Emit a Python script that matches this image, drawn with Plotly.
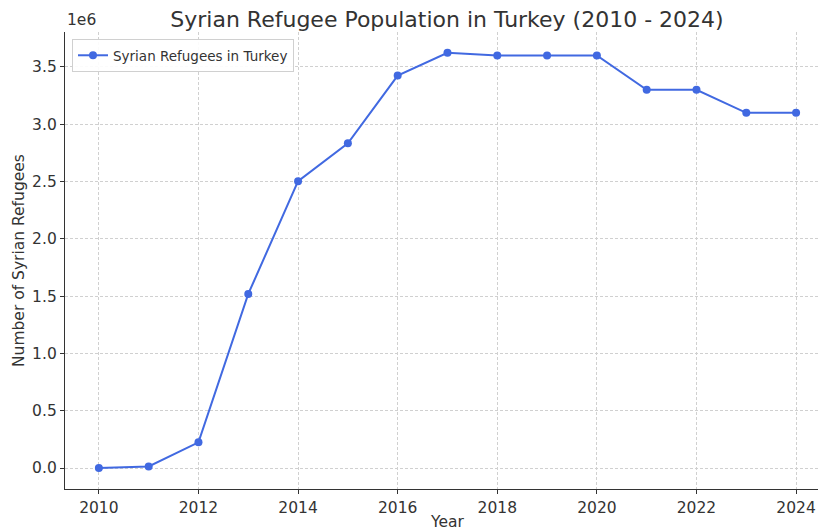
import plotly.graph_objects as go

# yearly counts
years = [2010, 2011, 2012, 2013, 2014, 2015, 2016, 2017, 2018, 2019, 2020, 2021, 2022, 2023, 2024]
refugees = [0, 14000, 224000, 1519000, 2503000, 2834000, 3425000, 3623000, 3600000, 3600000,
            3600000, 3300000, 3300000, 3100000, 3100000]
x_ticks = [2010, 2012, 2014, 2016, 2018, 2020, 2022, 2024]
y_ticks = [0, 500000, 1000000, 1500000, 2000000, 2500000, 3000000, 3500000]
y_tick_text = ["0.0", "0.5", "1.0", "1.5", "2.0", "2.5", "3.0", "3.5"]

font = "DejaVu Sans, Verdana, sans-serif"
W, H = 819, 530

fig = go.Figure()
fig.add_trace(go.Scatter(
    x=years,
    y=refugees,
    mode="lines+markers",
    name="Syrian Refugees in Turkey",
    line=dict(color="#4169E1", width=2),
    marker=dict(color="#4169E1", size=8),
))

fig.update_layout(
    width=W,
    height=H,
    paper_bgcolor="white",
    plot_bgcolor="white",
    margin=dict(l=65, r=1, t=32, b=41, autoexpand=False),
    font=dict(family=font, size=15.5, color="#333333"),
    title=dict(
        text="Syrian Refugee Population in Turkey (2010 - 2024)",
        x=447 / W, xanchor="center",
        y=1 - 19 / H, yanchor="middle",
        font=dict(size=22, color="#333333"),
    ),
    showlegend=True,
    legend=dict(
        x=7 / 753, y=1 - 7 / 457, xanchor="left", yanchor="top",
        bgcolor="rgba(255,255,255,0.9)",
        bordercolor="#d0d0d0", borderwidth=1,
        font=dict(size=13.5, color="#333333"),
    ),
)

grid = dict(showgrid=True, gridcolor="#d0d0d0", griddash="3px,2px", gridwidth=0.8)

fig.update_xaxes(
    range=[2009.32, 2024.44],
    tickvals=x_ticks,
    ticks="outside", ticklen=4, tickcolor="#333333",
    showline=True, linecolor="#333333", linewidth=1.3,
    zeroline=False, automargin=False,
    **grid,
)
fig.update_yaxes(
    range=[-183000, 3805000],
    tickvals=y_ticks,
    ticktext=y_tick_text,
    ticks="outside", ticklen=4, tickcolor="#333333",
    showline=True, linecolor="#333333", linewidth=1.3,
    zeroline=False, automargin=False,
    **grid,
)

# axis titles placed as in the reference
fig.add_annotation(
    text="Year", xref="paper", yref="paper",
    x=382 / 753, y=-33 / 457, xanchor="center", yanchor="middle",
    showarrow=False, font=dict(size=15.5, color="#333333"),
)
fig.add_annotation(
    text="Number of Syrian Refugees", xref="paper", yref="paper",
    x=-46 / 753, y=(489 - 261) / 457, xanchor="center", yanchor="middle",
    textangle=-90, showarrow=False, font=dict(size=15.5, color="#333333"),
)

# matplotlib style offset label above the y axis
fig.add_annotation(
    text="1e6", xref="paper", yref="paper",
    x=0, y=1, xanchor="left", yanchor="bottom", yshift=1,
    showarrow=False, font=dict(size=15.5, color="#333333"),
)

# drop the page's default body margin so the figure fills the window
fig.write_html(
    "out.html",
    config={"displayModeBar": False},
    post_script="document.body.style.margin='0';document.body.style.overflow='hidden';",
)
